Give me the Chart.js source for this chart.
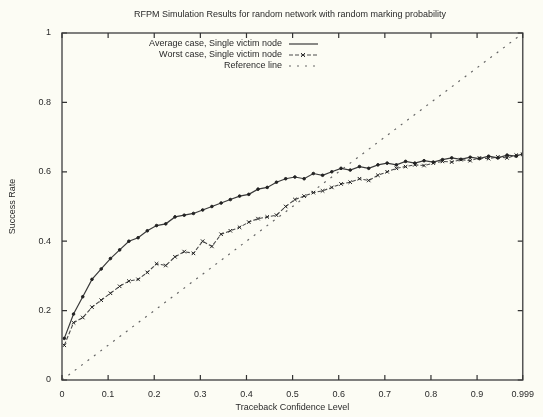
<!DOCTYPE html>
<html lang="en">
<head>
    <meta charset="UTF-8">
    <title>RFPM Simulation Results</title>
    <style>
        body {
            margin: 0;
            background: #fcfcf4;
        }
        canvas {
            display: block;
        }
    </style>
    <script src="https://cdn.jsdelivr.net/npm/chart.js@4.4.1/dist/chart.umd.min.js"></script>
</head>
<body>
    <canvas id="rfpmChart" width="543" height="417"></canvas>

    <script>
        // Data
        const confidenceLevels = [0.005, 0.025, 0.045, 0.065, 0.085, 0.105, 0.125, 0.145, 0.165, 0.185,
            0.205, 0.225, 0.245, 0.265, 0.285, 0.305, 0.325, 0.345, 0.365, 0.385,
            0.405, 0.425, 0.445, 0.465, 0.485, 0.505, 0.525, 0.545, 0.565, 0.585,
            0.605, 0.625, 0.645, 0.665, 0.685, 0.705, 0.725, 0.745, 0.765, 0.785,
            0.805, 0.825, 0.845, 0.865, 0.885, 0.905, 0.925, 0.945, 0.965, 0.985, 0.999];

        const averageCase = [0.12, 0.19, 0.24, 0.29, 0.32, 0.35, 0.375, 0.40, 0.41, 0.43,
            0.445, 0.45, 0.47, 0.475, 0.48, 0.49, 0.50, 0.51, 0.52, 0.53,
            0.535, 0.55, 0.555, 0.57, 0.58, 0.585, 0.58, 0.595, 0.59, 0.60,
            0.61, 0.605, 0.615, 0.61, 0.62, 0.625, 0.62, 0.63, 0.625, 0.632,
            0.628, 0.635, 0.64, 0.636, 0.642, 0.638, 0.645, 0.64, 0.648, 0.645, 0.652];

        const worstCase = [0.10, 0.165, 0.18, 0.21, 0.23, 0.25, 0.27, 0.285, 0.29, 0.31,
            0.335, 0.33, 0.355, 0.37, 0.365, 0.40, 0.385, 0.42, 0.43, 0.44,
            0.455, 0.465, 0.47, 0.475, 0.50, 0.52, 0.53, 0.54, 0.545, 0.555,
            0.565, 0.57, 0.58, 0.575, 0.59, 0.60, 0.61, 0.615, 0.62, 0.618,
            0.625, 0.63, 0.628, 0.635, 0.632, 0.64, 0.638, 0.643, 0.64, 0.648, 0.65];

        const referenceX = [0, 0.999];
        const referenceY = [0, 0.999];

        const xTicks = [0, 0.1, 0.2, 0.3, 0.4, 0.5, 0.6, 0.7, 0.8, 0.9, 0.999];
        const xTickLabels = ['0', '0.1', '0.2', '0.3', '0.4', '0.5', '0.6', '0.7', '0.8', '0.9', '0.999'];
        const yTicks = [0, 0.2, 0.4, 0.6, 0.8, 1];

        const seriesNames = ['Average case, Single victim node', 'Worst case, Single victim node', 'Reference line'];

        function toPoints(xs, ys) {
            return xs.map((x, i) => ({ x: x, y: ys[i] }));
        }

        const fontFamily = '"Liberation Sans", Arial, sans-serif';
        const inkColor = '#2a2a2a';

        // Title, frame with inward ticks and the legend, gnuplot style
        const framePlugin = {
            id: 'frame',
            beforeDraw(chart) {
                const ctx = chart.ctx;
                ctx.save();
                ctx.fillStyle = '#fcfcf4';
                ctx.fillRect(0, 0, chart.width, chart.height);
                ctx.restore();
            },
            afterDraw(chart) {
                const ctx = chart.ctx;
                const area = chart.chartArea;
                const xs = chart.scales.x;
                const ys = chart.scales.y;
                ctx.save();

                // title
                ctx.fillStyle = inkColor;
                ctx.font = '9px ' + fontFamily;
                ctx.textAlign = 'center';
                ctx.textBaseline = 'middle';
                ctx.fillText('RFPM Simulation Results for random network with random marking probability', 290, 15);

                // frame
                ctx.strokeStyle = '#555';
                ctx.lineWidth = 1.5;
                ctx.strokeRect(area.left, area.top, area.right - area.left, area.bottom - area.top);

                // inward ticks
                ctx.lineWidth = 1.2;
                ctx.strokeStyle = '#333';
                ctx.beginPath();
                xTicks.forEach(v => {
                    const px = xs.getPixelForValue(v);
                    ctx.moveTo(px, area.bottom);
                    ctx.lineTo(px, area.bottom - 5);
                    ctx.moveTo(px, area.top);
                    ctx.lineTo(px, area.top + 5);
                });
                yTicks.forEach(v => {
                    const py = ys.getPixelForValue(v);
                    ctx.moveTo(area.left, py);
                    ctx.lineTo(area.left + 5, py);
                    ctx.moveTo(area.right, py);
                    ctx.lineTo(area.right - 5, py);
                });
                ctx.stroke();

                // legend: right aligned text, sample to the right
                const textRight = 282;
                const rows = [44, 55, 66];
                ctx.font = '9px ' + fontFamily;
                ctx.textAlign = 'right';
                seriesNames.forEach((name, i) => {
                    ctx.fillStyle = inkColor;
                    ctx.fillText(name, textRight, rows[i]);
                    const ds = chart.data.datasets[i];
                    ctx.strokeStyle = ds.borderColor;
                    ctx.lineWidth = ds.borderWidth;
                    ctx.setLineDash(ds.borderDash || []);
                    ctx.beginPath();
                    ctx.moveTo(289, rows[i]);
                    ctx.lineTo(318, rows[i]);
                    ctx.stroke();
                    ctx.setLineDash([]);
                });
                // marker in the worst case sample
                ctx.strokeStyle = '#333';
                ctx.lineWidth = 1;
                ctx.beginPath();
                ctx.moveTo(301, 53);
                ctx.lineTo(305, 57);
                ctx.moveTo(305, 53);
                ctx.lineTo(301, 57);
                ctx.stroke();

                ctx.restore();
            }
        };

        const ctx = document.getElementById('rfpmChart').getContext('2d');
        const rfpmChart = new Chart(ctx, {
            type: 'scatter',
            data: {
                datasets: [{
                    label: seriesNames[0],
                    data: toPoints(confidenceLevels, averageCase),
                    showLine: true,
                    borderColor: '#3a3a3a',
                    borderWidth: 1.2,
                    pointStyle: 'circle',
                    pointRadius: 1.3,
                    pointBackgroundColor: '#222',
                    pointBorderColor: '#222',
                    pointBorderWidth: 1
                }, {
                    label: seriesNames[1],
                    data: toPoints(confidenceLevels, worstCase),
                    showLine: true,
                    borderColor: '#4a4a4a',
                    borderWidth: 1.1,
                    borderDash: [4, 2],
                    pointStyle: 'crossRot',
                    pointRadius: 2.5,
                    pointBorderColor: '#222',
                    pointBorderWidth: 1
                }, {
                    label: seriesNames[2],
                    data: toPoints(referenceX, referenceY),
                    showLine: true,
                    borderColor: '#666',
                    borderWidth: 1.2,
                    borderDash: [2, 6],
                    pointRadius: 0
                }]
            },
            options: {
                responsive: false,
                animation: false,
                events: [],
                layout: {
                    padding: { left: 0, right: 16, top: 33, bottom: 0 }
                },
                plugins: {
                    legend: { display: false },
                    tooltip: { enabled: false },
                    title: { display: false }
                },
                scales: {
                    x: {
                        type: 'linear',
                        min: 0,
                        max: 0.999,
                        afterBuildTicks: scale => {
                            scale.ticks = xTicks.map(v => ({ value: v }));
                        },
                        afterFit: scale => {
                            scale.height = 37;
                        },
                        ticks: {
                            autoSkip: false,
                            maxRotation: 0,
                            padding: 9,
                            color: inkColor,
                            font: { family: fontFamily, size: 9 },
                            callback: (value, index) => xTickLabels[index]
                        },
                        grid: { display: false, drawTicks: false },
                        border: { display: false },
                        title: {
                            display: true,
                            text: 'Traceback Confidence Level',
                            color: inkColor,
                            font: { family: fontFamily, size: 9 },
                            padding: { top: 0, bottom: 4 }
                        }
                    },
                    y: {
                        type: 'linear',
                        min: 0,
                        max: 1,
                        afterBuildTicks: scale => {
                            scale.ticks = yTicks.map(v => ({ value: v }));
                        },
                        afterFit: scale => {
                            scale.width = 62;
                        },
                        ticks: {
                            padding: 11,
                            color: inkColor,
                            font: { family: fontFamily, size: 9 },
                            callback: value => String(value)
                        },
                        grid: { display: false, drawTicks: false },
                        border: { display: false },
                        title: {
                            display: true,
                            text: 'Success Rate',
                            color: inkColor,
                            font: { family: fontFamily, size: 9 },
                            padding: { top: 7, bottom: 0 }
                        }
                    }
                }
            },
            plugins: [framePlugin]
        });
    </script>
</body>
</html>
